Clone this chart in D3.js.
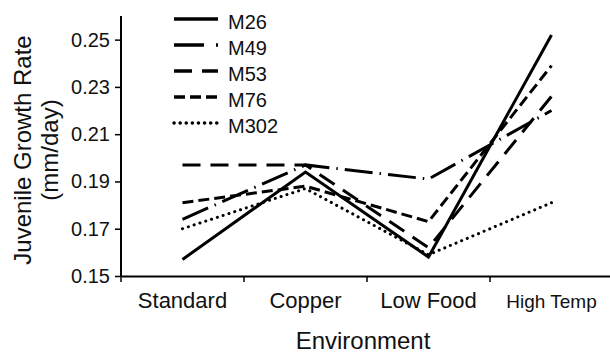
<!DOCTYPE html>
<html>
<head>
<meta charset="utf-8">
<script src="https://cdn.jsdelivr.net/npm/d3@7"></script>
<style>
  body { margin: 0; background: #fff; }
  text { font-family: "Liberation Sans", Arial, sans-serif; fill: #111; }
</style>
</head>
<body>
<script>
// categories and series
var environments = ["Standard", "Copper", "Low Food", "High Temp"];
var seriesNames = ["M26", "M49", "M53", "M76", "M302"];
var m26  = [0.157, 0.194, 0.158, 0.252];
var m49  = [0.174, 0.197, 0.191, 0.220];
var m53  = [0.197, 0.197, 0.162, 0.226];
var m76  = [0.181, 0.188, 0.173, 0.239];
var m302 = [0.170, 0.187, 0.159, 0.181];
var yTicks = [0.15, 0.17, 0.19, 0.21, 0.23, 0.25];

var allValues = [m26, m49, m53, m76, m302];
// line styles per series
var dashes = ["none", "28,7,1.5,7", "18,10", "11,5", "0.1,6"];
var caps = ["butt", "butt", "butt", "butt", "round"];

var width = 610, height = 354;
var plotLeft = 121, plotRight = 613, plotTop = 16, plotBottom = 276;

var svg = d3.select("body").append("svg")
  .attr("width", width)
  .attr("height", height);

var x = d3.scaleBand().domain(environments).range([plotLeft, plotRight]);
var y = d3.scaleLinear().domain([0.15, 0.26]).range([plotBottom, plotTop]);

// x axis
var xAxis = svg.append("g")
  .attr("transform", "translate(0," + plotBottom + ")")
  .call(d3.axisBottom(x).tickSize(0).tickPadding(0).tickFormat(""));
xAxis.select(".domain").attr("stroke", "#000").attr("stroke-width", 2);
xAxis.selectAll(".tick").remove();
// x ticks sit on band edges
svg.append("g").selectAll("line")
  .data(environments)
  .enter().append("line")
  .attr("x1", function(d){ return x(d); })
  .attr("x2", function(d){ return x(d); })
  .attr("y1", plotBottom)
  .attr("y2", plotBottom + 6)
  .attr("stroke", "#000")
  .attr("stroke-width", 1.5);

svg.append("g").selectAll("text")
  .data(environments)
  .enter().append("text")
  .attr("x", function(d){ return x(d) + x.bandwidth()/2; })
  .attr("y", 308)
  .attr("text-anchor", "middle")
  .style("font-size", function(d){ return d == "High Temp" ? "19px" : "22px"; })
  .text(function(d){ return d; });

// y axis
var yAxis = svg.append("g")
  .attr("transform", "translate(" + plotLeft + ",0)")
  .call(d3.axisLeft(y).tickValues(yTicks).tickSize(6).tickPadding(5)
        .tickFormat(d3.format(".2f")));
yAxis.select(".domain").attr("stroke", "#000").attr("stroke-width", 2)
  .attr("d", "M0," + plotTop + "V" + plotBottom);
yAxis.selectAll(".tick line").attr("stroke", "#000").attr("stroke-width", 1.5);
yAxis.selectAll(".tick text")
  .style("font-size", "20px")
  .style("font-family", "Liberation Sans, Arial, sans-serif")
  .attr("fill", "#111");

// axis titles
svg.append("text")
  .attr("transform", "translate(31,150) rotate(-90)")
  .attr("text-anchor", "middle")
  .style("font-size", "24px")
  .text("Juvenile Growth Rate");
svg.append("text")
  .attr("transform", "translate(58,150) rotate(-90)")
  .attr("text-anchor", "middle")
  .style("font-size", "24px")
  .text("(mm/day)");
svg.append("text")
  .attr("x", 363)
  .attr("y", 349)
  .attr("text-anchor", "middle")
  .style("font-size", "24px")
  .text("Environment");

// series lines
var line = d3.line()
  .x(function(d, i){ return x(environments[i]) + x.bandwidth()/2; })
  .y(function(d){ return y(d); });

svg.append("g").selectAll("path")
  .data(allValues)
  .enter().append("path")
  .attr("d", line)
  .attr("fill", "none")
  .attr("stroke", "#000")
  .attr("stroke-width", 3)
  .attr("stroke-dasharray", function(d, i){ return dashes[i]; })
  .attr("stroke-linecap", function(d, i){ return caps[i]; })
  .attr("stroke-linejoin", "miter");

// legend
var legend = svg.append("g").selectAll("g")
  .data(seriesNames)
  .enter().append("g")
  .attr("transform", function(d, i){ return "translate(174," + (19 + i*26) + ")"; });
legend.append("line")
  .attr("x1", 0).attr("x2", 44)
  .attr("y1", 0).attr("y2", 0)
  .attr("stroke", "#000")
  .attr("stroke-width", 3.5)
  .attr("stroke-dasharray", function(d, i){ return i == 1 ? "30,12,2,40" : dashes[i]; })
  .attr("stroke-linecap", function(d, i){ return caps[i]; });
legend.append("text")
  .attr("x", 54)
  .attr("y", 10)
  .style("font-size", "20px")
  .text(function(d){ return d; });
</script>
</body>
</html>
